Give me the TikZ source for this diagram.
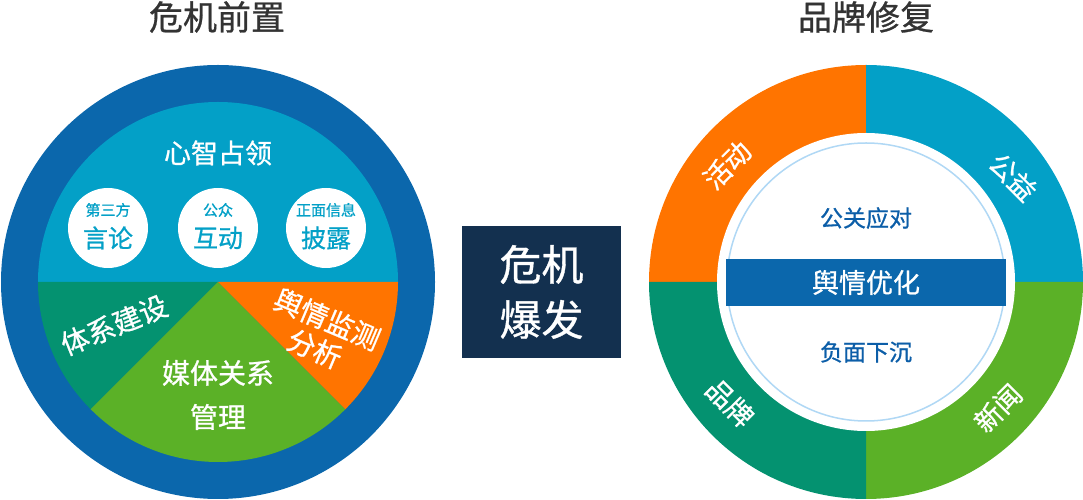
\documentclass[tikz,border=0pt]{standalone}
\usepackage{fontspec}
\usetikzlibrary{calc}
\setmainfont{Noto Sans CJK SC}[FakeBold=0.8]
\definecolor{ringblue}{HTML}{0B67AC}
\definecolor{lblue}{HTML}{03A0C7}
\definecolor{tealg}{HTML}{049270}
\definecolor{lime}{HTML}{5BB127}
\definecolor{orng}{HTML}{FF7400}
\definecolor{navy}{HTML}{13304F}
\definecolor{txtblue}{HTML}{0C5EA8}
\definecolor{thinblue}{HTML}{B0D8F5}
\definecolor{titlegray}{HTML}{333333}
\tikzset{
  fs/.style={font=\fontsize{#1}{#1}\selectfont},
  seglabel/.style={text=white, inner sep=0pt, fs=28},
  titlelabel/.style={text=titlegray, inner sep=0pt, fs=34},
  smallcirc/.style={circle, fill=white, minimum size=80pt, inner sep=0pt},
}
\begin{document}
\begin{tikzpicture}[x=1pt,y=1pt]
\useasboundingbox (0,0) rectangle (1083,500);
% ---------- left circle ----------
\coordinate (L) at (218,218);
\fill[ringblue] (L) circle (217);
\fill[lblue] ($(L)+(-180,0)$) arc (180:0:180) -- cycle;
\fill[tealg] (L) -- ++(180:180) arc (180:225:180) -- cycle;
\fill[lime] (L) -- ++(225:180) arc (225:315:180) -- cycle;
\fill[orng] (L) -- ++(315:180) arc (315:360:180) -- cycle;
\node[seglabel, fs=27] (xinzhi) at (218,347) {心智占领};
\node[smallcirc] (c1) at (108,272) {};
\node[smallcirc] (c2) at (218,272) {};
\node[smallcirc] (c3) at (326,272) {};
\node[text=lblue, fs=15, inner sep=0pt] (c1a) at (108,290) {第三方};
\node[text=lblue, fs=25, inner sep=0pt] (c1b) at (108,262) {言论};
\node[text=lblue, fs=15, inner sep=0pt] (c2a) at (218,290) {公众};
\node[text=lblue, fs=25, inner sep=0pt] (c2b) at (218,262) {互动};
\node[text=lblue, fs=15, inner sep=0pt] (c3a) at (326,290) {正面信息};
\node[text=lblue, fs=25, inner sep=0pt] (c3b) at (326,262) {披露};
\node[seglabel, rotate=22] (tixi) at (114,175) {体系建设};
\node[seglabel, rotate=-23, align=center] (yuqing) at (321,166) {舆情监测\\[4pt]分析};
\node[seglabel, align=center] (meiti) at (218,105) {媒体关系\\[16pt]管理};
\node[titlelabel] (t1) at (217,483) {危机前置};
% ---------- center box ----------
\node[fill=navy, minimum width=159pt, minimum height=132pt, inner sep=0pt] (box) at (541.5,208) {};
\node[text=white, fs=42, inner sep=0pt, align=center] (boxtxt) at (box.center) {危机\\[13pt]爆发};
% ---------- right ring ----------
\coordinate (R) at (866,218);
\fill[orng] (R) -- ++(90:217) arc (90:180:217) -- cycle;
\fill[lblue] (R) -- ++(0:217) arc (0:90:217) -- cycle;
\fill[lime] (R) -- ++(270:217) arc (270:360:217) -- cycle;
\fill[tealg] (R) -- ++(180:217) arc (180:270:217) -- cycle;
\fill[white] (R) circle (149);
\draw[thinblue, line width=1.5pt] (R) circle (139);
\node[fill=ringblue, minimum width=280pt, minimum height=47pt, inner sep=0pt] (band) at (866,217.5) {};
\node[text=white, fs=27, inner sep=0pt] (bandtxt) at (band.center) {舆情优化};
\node[text=txtblue, fs=23, inner sep=0pt] (gongguan) at (866,282) {公关应对};
\node[text=txtblue, fs=23, inner sep=0pt] (fumian) at (866,148) {负面下沉};
\node[seglabel, fs=27, rotate=45] (huodong) at (727,335) {活动};
\node[seglabel, fs=27, rotate=-45] (gongyi) at (1013,323) {公益};
\node[seglabel, fs=27, rotate=-45] (pinpai) at (730,97) {品牌};
\node[seglabel, fs=27, rotate=45] (xinwen) at (998,92) {新闻};
\node[titlelabel] (t2) at (866,483) {品牌修复};
\end{tikzpicture}
\end{document}
